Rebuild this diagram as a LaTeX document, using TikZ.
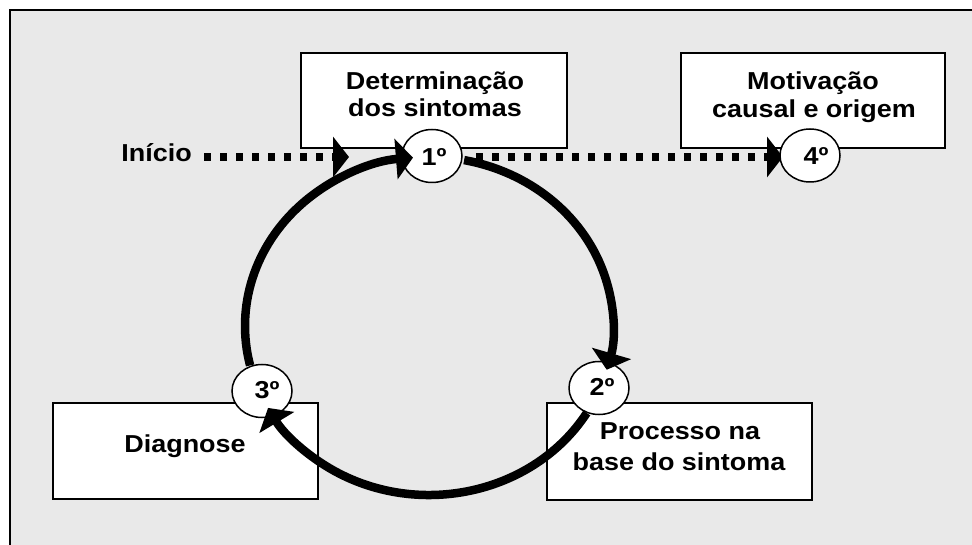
\documentclass[tikz,border=0pt]{standalone}
\usepackage{fontspec}
\newfontfamily\labfont{Liberation Sans}[FakeStretch=1.1]
\usetikzlibrary{arrows.meta,shapes.geometric}
\definecolor{bggray}{RGB}{233,233,233}
\begin{document}
\begin{tikzpicture}[x=1pt,y=-1pt,
  box/.style={draw=black, line width=1.5pt, fill=white, rectangle, inner sep=0pt},
  ordnode/.style={draw=black, line width=1.5pt, fill=white, ellipse, minimum width=60pt, minimum height=53pt, inner sep=0pt},
  txt/.style={font=\labfont\bfseries\fontsize{24.5}{28}\selectfont, anchor=base, inner sep=0pt},
  dotline/.style={line width=8pt, dash pattern=on 7pt off 9pt, -{Triangle[length=16pt,width=40pt]}},
  cycarrow/.style={line width=8.5pt, -{Triangle[length=17pt,width=40pt]}}
]
\useasboundingbox (0,0) rectangle (972,545);
\fill[white] (0,0) rectangle (972,545);
\fill[bggray] (9.5,10.5) rectangle (972,545);
\draw[line width=2pt] (9.5,545) -- (9.5,10.5) -- (972,10.5);

% boxes
\node[box, minimum width=266pt, minimum height=95pt] (b1) at (434,100.5) {};
\node[box, minimum width=264pt, minimum height=95pt] (b4) at (813,100.5) {};
\node[box, minimum width=265pt, minimum height=96pt] (b3) at (185.5,451) {};
\node[box, minimum width=265pt, minimum height=97pt] (b2) at (679.5,451.5) {};

% start coordinates of the dotted lines
\coordinate (s0) at (204,157);
\coordinate (s1) at (476,157);
\coordinate (tipA) at (349,157);
\coordinate (tipB) at (783,157);
\draw[dotline] (s0) -- (tipA);
\draw[dotline] (s1) -- (tipB);

% ellipses
\node[ordnode] (e1) at (432,156) {};
\node[ordnode] (e2) at (599,388) {};
\node[ordnode] (e3) at (262,391) {};
\node[ordnode] (e4) at (810,155.5) {};

% cycle arcs
\coordinate (c) at (429,326);
\draw[cycarrow] (c) ++(193.5:184pt and 169pt) arc[start angle=193.5, end angle=95, x radius=184pt, y radius=169pt];
\draw[cycarrow] (c) ++(79:184pt and 169pt) arc[start angle=79, end angle=-15, x radius=184pt, y radius=169pt];
\draw[cycarrow] (c) ++(-31:184pt and 169pt) arc[start angle=-31, end angle=-151, x radius=184pt, y radius=169pt];

% texts
\node[txt] (t1a) at (435,90) {Determinação};
\node[txt] (t1b) at (435,117) {dos sintomas};
\node[txt] (t4a) at (813,90) {Motivação};
\node[txt] (t4b) at (814,118) {causal e origem};
\node[txt] (t3) at (185,452) {Diagnose};
\node[txt] (t2a) at (680,439) {Processo na};
\node[txt] (t2b) at (679,470) {base do sintoma};
\node[txt, anchor=base east] (tin) at (192,162) {Início};
\node[txt] (n1) at (434,165.5) {1º};
\node[txt] (n2) at (602,395) {2º};
\node[txt] (n3) at (267,398) {3º};
\node[txt] (n4) at (816,164.5) {4º};
\end{tikzpicture}
\end{document}
